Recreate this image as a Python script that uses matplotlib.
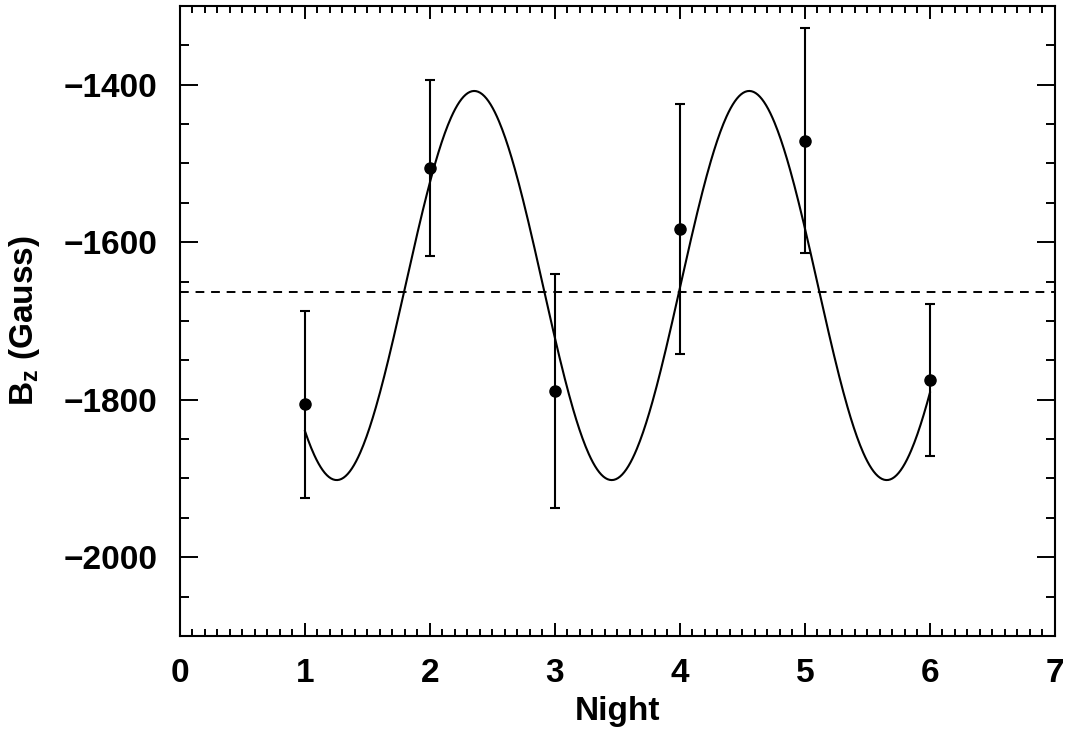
import numpy as np
import matplotlib
matplotlib.use("Agg")
import matplotlib.pyplot as plt
from matplotlib.ticker import MultipleLocator

plt.rcParams['font.family'] = ['Liberation Sans', 'DejaVu Sans']
plt.rcParams['font.weight'] = 'bold'
plt.rcParams['mathtext.fontset'] = 'custom'
plt.rcParams['mathtext.rm'] = 'Liberation Sans:bold'
plt.rcParams['mathtext.bf'] = 'Liberation Sans:bold'
plt.rcParams['mathtext.it'] = 'Liberation Sans:bold'
plt.rcParams['mathtext.default'] = 'rm'

# observations
night = [1, 2, 3, 4, 5, 6]
bz = [-1806, -1506, -1789, -1583, -1471, -1775]
bz_err = [119, 112, 148, 159, 143, 96]

# sine fit parameters
fit_mean = -1655
fit_amp = 247
fit_period = 2.2
fit_peak = 2.354
mean_level = -1663

fig = plt.figure(figsize=(10.68, 7.37), dpi=100)
ax = fig.add_axes([0.1685, 0.137, 0.8193, 0.855])

t = np.linspace(night[0], night[-1], 600)
model = fit_mean + fit_amp * np.cos(2 * np.pi * (t - fit_peak) / fit_period)
ax.plot(t, model, color='black', lw=1.5)

ax.axhline(mean_level, color='black', lw=1.4, linestyle=(0, (4.5, 3.5)))

ax.errorbar(night, bz, yerr=bz_err, fmt='o', color='black', ms=8,
            elinewidth=1.5, capsize=3.5, capthick=1.5)

ax.set_xlim(0, 7)
ax.set_ylim(-2100, -1300)
ax.xaxis.set_major_locator(MultipleLocator(1))
ax.xaxis.set_minor_locator(MultipleLocator(0.1))
ax.yaxis.set_major_locator(MultipleLocator(200))
ax.yaxis.set_minor_locator(MultipleLocator(50))

ax.tick_params(axis='both', which='both', direction='in', top=True, right=True,
               color='black', width=1.4)
ax.tick_params(axis='x', which='major', length=9.5, pad=16, labelsize=24)
ax.tick_params(axis='x', which='minor', length=4.7)
ax.tick_params(axis='y', which='major', length=13, pad=16, labelsize=24)
ax.tick_params(axis='y', which='minor', length=6.5)
for s in ax.spines.values():
    s.set_linewidth(1.5)

ax.set_xlabel('Night', fontsize=24, fontweight='bold', labelpad=5)
ax.set_ylabel('B$_z$ (Gauss)', fontsize=24, fontweight='bold', labelpad=16)

fig.savefig('out.png', dpi=100)
